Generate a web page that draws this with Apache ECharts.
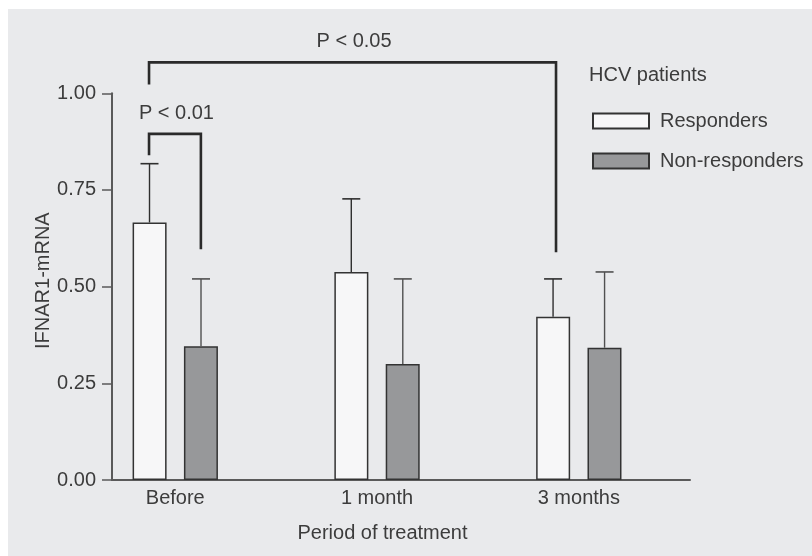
<!DOCTYPE html>
<html>
<head>
<meta charset="utf-8">
<script src="https://cdn.jsdelivr.net/npm/echarts@6/dist/echarts.min.js"></script>
<style>
  html, body { margin: 0; padding: 0; background: #ffffff; }
  #wrap { position: relative; width: 812px; height: 556px; overflow: hidden; }
  #panel { position: absolute; left: 8px; top: 9px; right: 0; bottom: 0; background: #e9eaec; }
  #chart { position: absolute; left: 0; top: 0; width: 812px; height: 556px; }
</style>
</head>
<body>
<div id="wrap"><div id="panel"></div><div id="chart"></div></div>
<script>
// ---- data ----
const categories = ['Before', '1 month', '3 months'];
const seriesNames = ['Responders', 'Non-responders'];
const responders = [0.666, 0.538, 0.422];
const nonResponders = [0.346, 0.300, 0.342];
const respondersErrTop = [0.818, 0.727, 0.520];
const nonRespondersErrTop = [0.520, 0.520, 0.538];
const yTicks = [0, 0.25, 0.5, 0.75, 1.0];
// significance brackets: [xLeft, xRight, yTop, yLeftEnd, yRightEnd]
const bracketLabels = ['P < 0.01', 'P < 0.05'];
const brackets = [
  [-0.130, 0.127, 0.895, 0.840, 0.597],
  [-0.130, 1.887, 1.080, 1.023, 0.589]
];

const FONT = '"Liberation Sans", Arial, Helvetica, sans-serif';
const TXT = '#3c3c3c';
const BAR_W = 34;
const HALF_OFF = 25.75; // px offset of each bar centre from category centre

const chart = echarts.init(document.getElementById('chart'), null, { renderer: 'canvas' });

function errData(vals, tops, dir) {
  return vals.map((v, i) => [i, v, tops[i], dir]);
}

const option = {
  backgroundColor: 'transparent',
  textStyle: { fontFamily: FONT },
  animation: false,
  title: {
    text: 'HCV patients',
    left: 589, top: 65, padding: 0,
    textStyle: { fontSize: 20, fontWeight: 'normal', color: TXT, fontFamily: FONT }
  },
  legend: {
    data: seriesNames,
    orient: 'vertical',
    left: 592, top: 111, padding: 0,
    itemWidth: 56, itemHeight: 15, itemGap: 20,
    icon: 'rect',
    textStyle: { fontSize: 20, color: TXT, fontFamily: FONT, padding: [0, 0, 0, 6] }
  },
  grid: { left: 112, right: 122, top: 93.3, bottom: 76, containLabel: false },
  xAxis: {
    type: 'value',
    min: -0.3135, max: 2.551,
    splitLine: { show: false },
    axisTick: { show: false },
    axisLine: { show: true, onZero: false, lineStyle: { color: '#5a5a5a', width: 2 } },
    axisLabel: {
      customValues: [0, 1, 2],
      formatter: v => categories[Math.round(v)] || '',
      fontSize: 20, color: TXT, fontFamily: FONT, margin: 8
    },
    name: 'Period of treatment',
    nameLocation: 'middle',
    nameGap: 43,
    nameMoveOverlap: false,
    nameTextStyle: { fontSize: 20, color: TXT, fontFamily: FONT, padding: [0, 37, 0, 0] }
  },
  yAxis: {
    type: 'value',
    min: 0, max: 1, interval: 0.25,
    splitLine: { show: false },
    axisLine: { show: true, onZero: false, lineStyle: { color: '#5a5a5a', width: 2 } },
    axisTick: { show: true, length: 10, lineStyle: { color: '#5a5a5a', width: 1.5 } },
    axisLabel: {
      formatter: v => v.toFixed(2),
      fontSize: 20, color: TXT, fontFamily: FONT, margin: 16
    },
    name: 'IFNAR1-mRNA',
    nameLocation: 'middle',
    nameGap: 59,
    nameMoveOverlap: false,
    nameTextStyle: { fontSize: 20, color: TXT, fontFamily: FONT, padding: [0, 0, 0, 12] }
  },
  series: [
    {
      name: seriesNames[0], type: 'bar',
      data: responders.map((v, i) => [i, v]),
      barWidth: BAR_W, barGap: '51%',
      itemStyle: { color: '#f7f7f8', borderColor: '#333333', borderWidth: 1.5 },
      z: 2
    },
    {
      name: seriesNames[1], type: 'bar',
      data: nonResponders.map((v, i) => [i, v]),
      barWidth: BAR_W, barGap: '51%',
      itemStyle: { color: '#97989a', borderColor: '#333333', borderWidth: 1.5 },
      z: 2
    },
    {
      name: 'errors', type: 'custom',
      data: errData(responders, respondersErrTop, -1).concat(errData(nonResponders, nonRespondersErrTop, 1)),
      encode: { x: 0, y: [1, 2] },
      z: 3, silent: true, clip: false,
      renderItem: function (params, api) {
        const x = api.value(0), lo = api.value(1), hi = api.value(2), dir = api.value(3);
        const p1 = api.coord([x, lo]);
        const p2 = api.coord([x, hi]);
        const cx = p1[0] + dir * HALF_OFF;
        const col = dir < 0 ? '#2e2e2e' : '#505050';
        return {
          type: 'group',
          children: [
            { type: 'line', shape: { x1: cx, y1: p1[1], x2: cx, y2: p2[1] }, style: { stroke: col, lineWidth: 1.4 } },
            { type: 'line', shape: { x1: cx - 9, y1: p2[1], x2: cx + 9, y2: p2[1] }, style: { stroke: col, lineWidth: 1.6 } }
          ]
        };
      }
    },
    {
      name: 'brackets', type: 'custom',
      data: brackets.map((b, i) => b.concat([i])),
      encode: { x: [0, 1], y: [2, 3, 4] },
      z: 4, silent: true, clip: false,
      renderItem: function (params, api) {
        const xl = api.value(0), xr = api.value(1), yt = api.value(2), yl = api.value(3), yr = api.value(4);
        const idx = api.value(5);
        const tl = api.coord([xl, yt]);
        const tr = api.coord([xr, yt]);
        const bl = api.coord([xl, yl]);
        const br = api.coord([xr, yr]);
        return {
          type: 'group',
          children: [
            { type: 'polyline', shape: { points: [bl, tl, tr, br] },
              style: { stroke: '#2a2a2a', lineWidth: 2.6, fill: null, lineJoin: 'miter' } },
            { type: 'text',
              style: { text: bracketLabels[idx], x: (tl[0] + tr[0]) / 2 + 1.5, y: tl[1] - 20.5,
                       align: 'center', verticalAlign: 'middle',
                       font: '20px ' + FONT, fill: TXT } }
          ]
        };
      }
    }
  ]
};
chart.setOption(option);
</script>
</body>
</html>
